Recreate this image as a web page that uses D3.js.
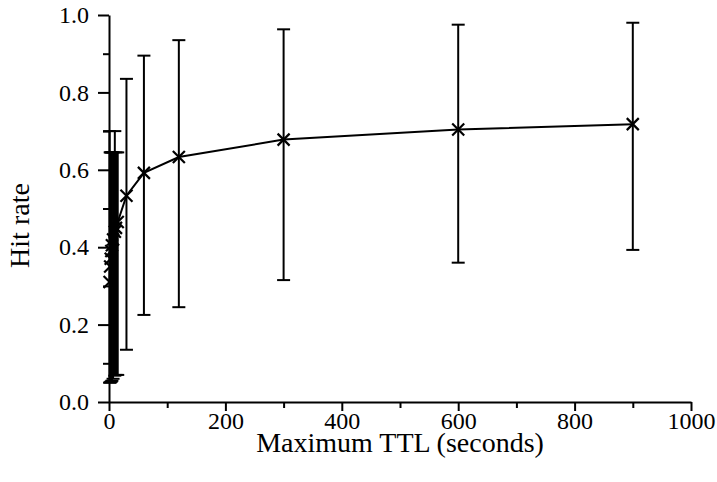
<!DOCTYPE html>
<html>
<head>
<meta charset="utf-8">
<script src="https://cdn.jsdelivr.net/npm/d3@7"></script>
<style>
  body { margin: 0; background: #fff; }
  svg { display: block; }
  .axis text { font-family: "Liberation Serif", "DejaVu Serif", serif; font-size: 24px; fill: #000; }
  .axis path, .axis line { stroke: #000; stroke-width: 2px; }
  .axis-title { font-family: "Liberation Serif", "DejaVu Serif", serif; font-size: 28px; fill: #000; }
</style>
</head>
<body>
<div id="chart"></div>
<script>
// Maximum TTL (seconds) and measured hit rate with error bar range
const ttl = [1, 2, 3, 4, 5, 7, 10, 12, 15, 30, 60, 120, 300, 600, 900];
const hitRate = [0.31, 0.35, 0.37, 0.39, 0.405, 0.42, 0.44, 0.45, 0.465, 0.533, 0.592, 0.633, 0.678, 0.704, 0.718];
const errLow = [0.05, 0.05, 0.052, 0.053, 0.055, 0.06, 0.068, 0.07, 0.07, 0.135, 0.225, 0.245, 0.315, 0.36, 0.393];
const errHigh = [0.70, 0.645, 0.645, 0.645, 0.645, 0.645, 0.70, 0.645, 0.645, 0.835, 0.895, 0.935, 0.963, 0.975, 0.98];

const xMajor = [0, 200, 400, 600, 800, 1000];
const xMinor = [100, 300, 500, 700, 900];
const yMajor = [0, 0.2, 0.4, 0.6, 0.8, 1.0];
const yMinor = [0.1, 0.3, 0.5, 0.7, 0.9];

const W = 717, H = 482;
const margin = { top: 15, right: 26, bottom: 80, left: 109 };
const width = W - margin.left - margin.right;
const height = H - margin.top - margin.bottom;

const svg = d3.select('#chart')
    .append('svg')
    .attr('width', W)
    .attr('height', H)
    .append('g')
    .attr('transform', `translate(${margin.left}, ${margin.top})`);

const x = d3.scaleLinear().domain([0, 1000]).range([0, width]);
const y = d3.scaleLinear().domain([0, 1]).range([height, 0]);

// minor ticks first, then major axes on top
svg.append('g')
    .attr('class', 'axis')
    .attr('transform', `translate(0, ${height})`)
    .call(d3.axisBottom(x).tickValues(xMinor).tickSize(6).tickSizeOuter(0).tickFormat(''))
    .select('.domain').remove();

svg.append('g')
    .attr('class', 'axis')
    .call(d3.axisLeft(y).tickValues(yMinor).tickSize(6).tickSizeOuter(0).tickFormat(''))
    .select('.domain').remove();

svg.append('g')
    .attr('class', 'axis x-axis')
    .attr('transform', `translate(0, ${height})`)
    .call(d3.axisBottom(x).tickValues(xMajor).tickSize(9).tickSizeOuter(0).tickPadding(1).tickFormat(d3.format('d')));

svg.append('g')
    .attr('class', 'axis y-axis')
    .call(d3.axisLeft(y).tickValues(yMajor).tickSize(11).tickSizeOuter(0).tickPadding(9).tickFormat(d3.format('.1f')));

// axis titles
svg.append('text')
    .attr('class', 'axis-title')
    .attr('x', width / 2)
    .attr('y', height + 50)
    .attr('text-anchor', 'middle')
    .text('Maximum TTL (seconds)');

svg.append('text')
    .attr('class', 'axis-title')
    .attr('transform', `translate(${-80}, ${height / 2 + 17}) rotate(-90)`)
    .attr('text-anchor', 'middle')
    .text('Hit rate');

const points = ttl.map((t, i) => ({ t: t, v: hitRate[i], lo: errLow[i], hi: errHigh[i] }));
const cap = 6.5;

// error bars
const bars = svg.append('g')
    .attr('stroke', '#000')
    .attr('stroke-width', 2)
    .attr('fill', 'none');

points.forEach(d => {
    const cx = x(d.t);
    bars.append('line').attr('x1', cx).attr('x2', cx).attr('y1', y(d.lo)).attr('y2', y(d.hi));
    bars.append('line').attr('x1', cx - cap).attr('x2', cx + cap).attr('y1', y(d.lo)).attr('y2', y(d.lo));
    bars.append('line').attr('x1', cx - cap).attr('x2', cx + cap).attr('y1', y(d.hi)).attr('y2', y(d.hi));
});

// mean line
svg.append('path')
    .datum(points)
    .attr('fill', 'none')
    .attr('stroke', '#000')
    .attr('stroke-width', 2)
    .attr('d', d3.line().x(d => x(d.t)).y(d => y(d.v)));

// x markers
const m = 6;
const markers = svg.append('g')
    .attr('stroke', '#000')
    .attr('stroke-width', 2.2);

points.forEach(d => {
    const cx = x(d.t), cy = y(d.v);
    markers.append('line').attr('x1', cx - m).attr('y1', cy - m).attr('x2', cx + m).attr('y2', cy + m);
    markers.append('line').attr('x1', cx - m).attr('y1', cy + m).attr('x2', cx + m).attr('y2', cy - m);
});
</script>
</body>
</html>
